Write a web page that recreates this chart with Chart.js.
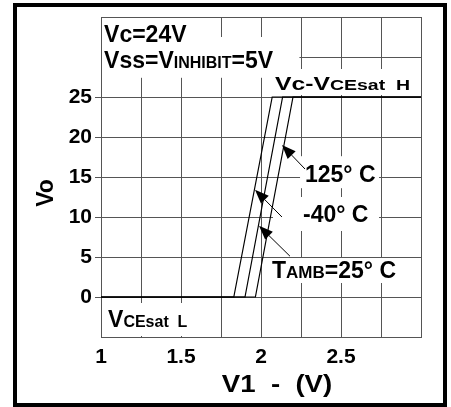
<!DOCTYPE html>
<html><head><meta charset="utf-8">
<script src="https://cdn.jsdelivr.net/npm/chart.js@4/dist/chart.umd.min.js"></script>
<style>html,body{margin:0;padding:0;background:#fff;}#wrap{width:451px;height:407px;}</style>
</head><body><div id="wrap"><canvas id="c" width="451" height="407"></canvas></div>
<script>
// ---- data ----
const v1Minus40 = [1.00, 1.83, 2.07, 3.00];
const voMinus40 = [0, 0, 25, 25];
const v1Amb25 = [1.00, 1.90, 2.135, 3.00];
const voAmb25 = [0, 0, 25, 25];
const v1Hot125 = [1.00, 1.965, 2.20, 3.00];
const voHot125 = [0, 0, 25, 25];
const seriesNames = ['-40° C', 'TAMB=25° C', '125° C'];
const xTickLabels = [1, 1.5, 2, 2.5];
const yTickLabels = [0, 5, 10, 15, 20, 25];
const xTitle = 'V1  -  (V)';
const yTitle = 'Vo';

const FONT = '"Liberation Sans", Arial, Helvetica, sans-serif';
const GRID = '#555';

function pts(xs, ys) { return xs.map((x, i) => ({x: x, y: ys[i]})); }

// annotation texts (positions in data units)
const notes = [
  {runs: [['Vc=24V', 23]], x: 1.019, y: 31.9, sx: 1, box: [1.0, 35, 1.70, 32.5]},
  {runs: [['Vss=V', 23], ['INHIBIT', 16], ['=5V', 23]], x: 1.019, y: 28.6, sx: 1, box: [1.0, 32.5, 2.24, 27.4]},
  {runs: [['Vc-V', 19], ['CEsat  H', 15]], x: 2.0875, y: 25.9, sx: 1.3, box: [2.025, 28.5, 3.0, 25.25]},
  {runs: [['V', 23], ['CEsat  L', 16]], x: 1.044, y: -3.75, sx: 1, box: [1.0, -0.75, 1.7375, -5]},
  {runs: [[seriesNames[2], 23]], x: 2.275, y: 14.4, sx: 1, box: [2.244, 17.6, 2.7375, 13.6]},
  {runs: [[seriesNames[0], 23]], x: 2.2625, y: 9.4, sx: 1, box: [2.075, 12.5, 2.7375, 8.25]},
  {runs: [['T', 23], ['AMB', 17], ['=25° C', 23]], x: 2.069, y: 2.4, sx: 1, box: [2.044, 4.875, 2.93, 1.75]}
];
const arrows = [
  {from: [2.275, 16.0], to: [2.131, 19.0]},
  {from: [2.131, 10.0], to: [1.9625, 13.4]},
  {from: [2.181, 5.1], to: [1.9875, 8.9]}
];

function drawRuns(ctx, runs, x, y, sx) {
  ctx.save();
  ctx.translate(x, y);
  ctx.scale(sx, 1);
  ctx.fillStyle = '#000';
  ctx.textBaseline = 'alphabetic';
  ctx.textAlign = 'left';
  let cx = 0;
  for (const [t, size] of runs) {
    ctx.font = 'bold ' + size + 'px ' + FONT;
    ctx.fillText(t, cx, 0);
    cx += ctx.measureText(t).width;
  }
  ctx.restore();
}

const annotPlugin = {
  id: 'annot',
  beforeDatasetsDraw(chart) {
    const {ctx, chartArea: ca, scales: {x, y}} = chart;
    ctx.save();
    ctx.fillStyle = '#fff';
    for (const n of notes) {
      let x0 = x.getPixelForValue(n.box[0]), x1 = x.getPixelForValue(n.box[2]);
      let y0 = y.getPixelForValue(n.box[1]), y1 = y.getPixelForValue(n.box[3]);
      x0 = Math.max(x0, ca.left + 1); x1 = Math.min(x1, ca.right - 1);
      y0 = Math.max(y0, ca.top + 1); y1 = Math.min(y1, ca.bottom - 1);
      ctx.fillRect(x0, y0, x1 - x0, y1 - y0);
    }
    ctx.restore();
    for (const n of notes) {
      drawRuns(ctx, n.runs, x.getPixelForValue(n.x), y.getPixelForValue(n.y), n.sx);
    }
  },
  afterDatasetsDraw(chart) {
    const {ctx, scales: {x, y}} = chart;
    ctx.save();
    ctx.strokeStyle = '#000';
    ctx.fillStyle = '#000';
    ctx.lineWidth = 1;
    for (const a of arrows) {
      const fx = x.getPixelForValue(a.from[0]), fy = y.getPixelForValue(a.from[1]);
      const tx = x.getPixelForValue(a.to[0]), ty = y.getPixelForValue(a.to[1]);
      const ang = Math.atan2(ty - fy, tx - fx);
      const L = 14, W = 5.5;
      const bx = tx - L * Math.cos(ang), by = ty - L * Math.sin(ang);
      ctx.beginPath(); ctx.moveTo(fx, fy); ctx.lineTo(bx, by); ctx.stroke();
      ctx.beginPath();
      ctx.moveTo(tx, ty);
      ctx.lineTo(bx + W * Math.sin(ang), by - W * Math.cos(ang));
      ctx.lineTo(bx - W * Math.sin(ang), by + W * Math.cos(ang));
      ctx.closePath(); ctx.fill();
    }
    ctx.restore();
  },
  afterDraw(chart) {
    const {ctx} = chart;
    ctx.save();
    // axis titles
    ctx.fillStyle = '#000';
    ctx.font = 'bold 23px ' + FONT;
    ctx.textAlign = 'center';
    ctx.textBaseline = 'middle';
    ctx.save();
    ctx.translate(47, 193);
    ctx.rotate(-Math.PI / 2);
    ctx.fillText(yTitle, 0, 0);
    ctx.restore();
    ctx.save();
    ctx.translate(277, 385);
    ctx.scale(1.15, 1);
    ctx.font = 'bold 24px ' + FONT;
    ctx.fillText(xTitle, 0, 0);
    ctx.restore();
    // outer frame
    ctx.strokeStyle = '#000';
    ctx.lineWidth = 4;
    ctx.strokeRect(15, 5, 430, 400);
    ctx.restore();
  }
};

const ds = (label, xs, ys) => ({
  label: label, data: pts(xs, ys), borderColor: '#000', borderWidth: 1.2,
  pointRadius: 0, fill: false, tension: 0
});

new Chart(document.getElementById('c'), {
  type: 'line',
  data: {
    datasets: [
      ds(seriesNames[0], v1Minus40, voMinus40),
      ds(seriesNames[1], v1Amb25, voAmb25),
      ds(seriesNames[2], v1Hot125, voHot125)
    ]
  },
  options: {
    responsive: false,
    animation: false,
    layout: {padding: {left: 0, top: 17, right: 30, bottom: 0}},
    plugins: {legend: {display: false}, tooltip: {enabled: false}},
    scales: {
      x: {
        type: 'linear', min: 1, max: 3,
        ticks: {
          stepSize: 0.25, autoSkip: false, maxRotation: 0, padding: 8, color: '#000',
          font: {family: FONT, size: 21, weight: 'bold'},
          callback: (v) => xTickLabels.includes(Math.round(v * 100) / 100) ? String(v) : ''
        },
        grid: {color: GRID, lineWidth: 1, drawTicks: false},
        border: {color: GRID, width: 1},
        afterFit: (s) => { s.height = 70; }
      },
      y: {
        type: 'linear', min: -5, max: 35,
        ticks: {
          stepSize: 5, autoSkip: false, padding: 3, color: '#000',
          font: {family: FONT, size: 21, weight: 'bold'},
          callback: (v) => yTickLabels.includes(v) ? String(v) : ''
        },
        grid: {
          color: GRID, lineWidth: 1, drawTicks: true, tickLength: 6,
          tickColor: (c) => (c.tick && yTickLabels.includes(c.tick.value)) ? GRID : 'rgba(0,0,0,0)'
        },
        border: {color: GRID, width: 1},
        afterFit: (s) => { s.width = 101; }
      }
    }
  },
  plugins: [annotPlugin]
});
</script>
</body></html>
